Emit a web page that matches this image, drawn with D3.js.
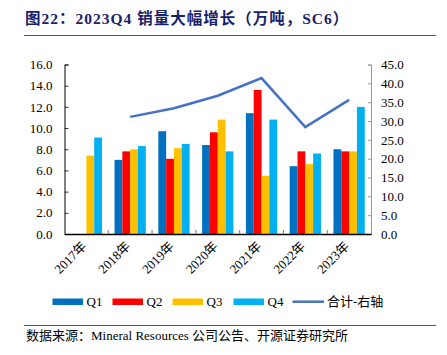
<!DOCTYPE html>
<html><head><meta charset="utf-8">
<script src="https://cdn.jsdelivr.net/npm/d3@7"></script>
<style>body{margin:0;background:#fff}svg{display:block}</style>
</head><body>
<script>
const years = ["2017年","2018年","2019年","2020年","2021年","2022年","2023年"];
const quarters = ["Q1","Q2","Q3","Q4"];
const q1 = [null, 7.0, 9.7, 8.4, 11.4, 6.4, 8.0];
const q2 = [null, 7.8, 7.1, 9.6, 13.6, 7.8, 7.8];
const q3 = [7.4, 8.0, 8.1, 10.8, 5.5, 6.6, 7.8];
const q4 = [9.1, 8.3, 8.5, 7.8, 10.8, 7.6, 12.0];
const total = [null, 31.1, 33.4, 36.7, 41.4, 28.4, 35.6];
const leftTicks = [0,2,4,6,8,10,12,14,16];
const rightTicks = [0,5,10,15,20,25,30,35,40,45];
const legendLine = "合计-右轴";
const colors = ["#0070C0","#FF0000","#FFC000","#00B0F0"];
const lineColor = "#4472C4";

const W=447,H=355;
const svg=d3.select("body").append("svg").attr("width",W).attr("height",H);
const serif="'Liberation Serif','Times New Roman','Noto Sans CJK SC',serif";
const L=64.5,R=371,T=64.5,B=234;

// title
svg.append("text").attr("x",25).attr("y",24)
  .attr("font-family",serif).attr("font-weight","bold").attr("font-size",15.5).attr("letter-spacing",1)
  .attr("fill","#17226A").text("图22：2023Q4 销量大幅增长（万吨，SC6）");
svg.append("line").attr("x1",24).attr("x2",436).attr("y1",35.5).attr("y2",35.5).attr("stroke","#555").attr("stroke-width",1);

const x=d3.scaleBand().domain(years).range([L,R]).padding(0);
const xq=d3.scaleBand().domain(quarters).range([0,x.bandwidth()]).paddingInner(0).paddingOuter(0.8);
const yL=d3.scaleLinear().domain([0,16]).range([B,T]);
const yR=d3.scaleLinear().domain([0,45]).range([B,T]);

const series=[q1,q2,q3,q4];
const g=svg.append("g");
series.forEach((s,i)=>{
  g.selectAll(null).data(years.map((y,j)=>({y,v:s[j]})).filter(d=>d.v!=null)).enter().append("rect")
   .attr("x",d=>x(d.y)+xq(quarters[i])).attr("width",xq.bandwidth())
   .attr("y",d=>yL(d.v)).attr("height",d=>yL(0)-yL(d.v))
   .attr("fill",colors[i]);
});

// left axis
const ax=svg.append("g").attr("transform",`translate(${L},0)`)
 .call(d3.axisLeft(yL).tickValues(leftTicks).tickFormat(d3.format(".1f")).tickSizeInner(-4).tickSizeOuter(-4).tickPadding(12));
ax.select(".domain").attr("stroke","#000");
ax.selectAll(".tick line").attr("stroke","#333");
ax.selectAll("text").attr("font-family",serif).attr("font-size",13).attr("fill","#000");

// right axis
const ar=svg.append("g").attr("transform",`translate(${R},0)`)
 .call(d3.axisRight(yR).tickValues(rightTicks).tickFormat(d3.format(".1f")).tickSizeInner(-3).tickSizeOuter(-3).tickPadding(10));
ar.select(".domain").attr("stroke","#999");
ar.selectAll(".tick line").attr("stroke","#999");
ar.selectAll("text").attr("font-family",serif).attr("font-size",13).attr("fill","#000");

// bottom axis
const ab=svg.append("g").attr("transform",`translate(0,${B})`)
 .call(d3.axisBottom(x).tickSize(0).tickFormat(""));
ab.select(".domain").attr("stroke","#000").attr("stroke-width",1.3);
years.slice(1).forEach(y=>{
  svg.append("line").attr("x1",x(y)).attr("x2",x(y)).attr("y1",B).attr("y2",B-4).attr("stroke","#888").attr("stroke-width",1.2);
});
svg.selectAll(".xl").data(years).enter().append("text")
 .attr("transform",d=>`translate(${x(d)+x.bandwidth()/2+1},${B+13}) rotate(-45)`)
 .attr("text-anchor","end").attr("font-family",serif).attr("font-size",13).attr("fill","#000").text(d=>d);

// line
const line=d3.line().defined(d=>d.v!=null).x(d=>x(d.y)+x.bandwidth()/2).y(d=>yR(d.v));
svg.append("path").datum(years.map((y,j)=>({y,v:total[j]})))
 .attr("d",line).attr("fill","none").attr("stroke",lineColor).attr("stroke-width",2.5);

// legend
const lg=svg.append("g");
const lx=[52.5,112.5,172.5,233.5];
quarters.forEach((q,i)=>{
  lg.append("rect").attr("x",lx[i]).attr("y",298.5).attr("width",30.5).attr("height",6.5).attr("fill",colors[i]);
  lg.append("text").attr("x",lx[i]+34).attr("y",306).attr("font-family",serif).attr("font-size",13).text(q);
});
lg.append("line").attr("x1",292.5).attr("x2",324).attr("y1",301.7).attr("y2",301.7).attr("stroke",lineColor).attr("stroke-width",2.5);
lg.append("text").attr("x",327).attr("y",306).attr("font-family",serif).attr("font-size",13).text(legendLine);

// source
svg.append("line").attr("x1",24).attr("x2",436).attr("y1",325.5).attr("y2",325.5).attr("stroke","#555").attr("stroke-width",1);
svg.append("text").attr("x",26).attr("y",340).attr("font-family",serif).attr("font-size",13).attr("fill","#000")
 .text("数据来源：Mineral Resources 公司公告、开源证券研究所");
</script>
</body></html>
